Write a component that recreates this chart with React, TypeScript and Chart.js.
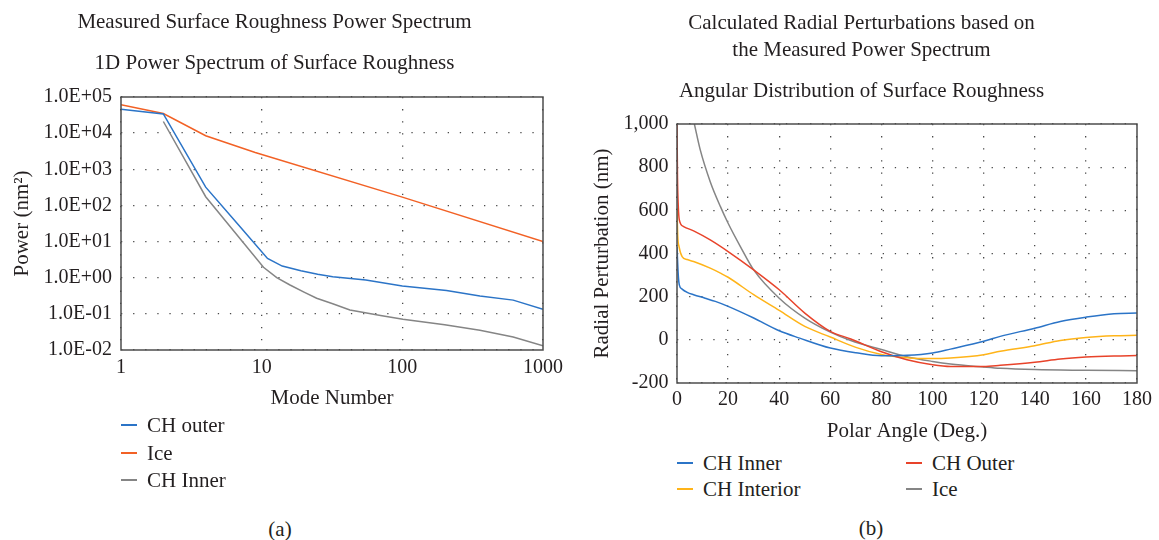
import React, { useEffect, useRef } from "react";
import { Chart, registerables } from "chart.js";

Chart.register(...registerables);

const FONT = '"Liberation Serif", "Times New Roman", serif';
const TEXT = "#231f20";

// ---- Panel (a): 1D power spectrum ----
const powerTicks = [0.01, 0.1, 1, 10, 100, 1000, 10000, 100000];
const modeTicks = [1, 10, 100, 1000];

const outerModes = [1, 2, 4, 7, 11, 14, 19, 25, 32, 55, 100, 206, 356, 614, 1000];
const outerPower = [46000, 34000, 320, 26, 3.4, 2.1, 1.56, 1.25, 1.07, 0.86, 0.59, 0.44, 0.31, 0.24, 0.134];

const iceModes = [1, 2, 4, 9, 100, 1000];
const icePower = [61000, 35000, 8500, 2900, 170, 10];

const innerModes = [2, 4, 10.3, 12.8, 15.9, 20, 24.6, 32, 42.4, 70, 101, 200, 356, 614, 1000];
const innerPower = [21000, 174, 1.94, 1.0, 0.63, 0.4, 0.27, 0.19, 0.128, 0.09, 0.071, 0.05, 0.035, 0.023, 0.013];

// ---- Panel (b): angular distribution ----
const angleTicksStep = 20;
const pertTicksStep = 200;

const chInnerAngle = [0, 0.5, 0.9, 2, 4, 6.5, 11, 15, 20, 30, 40, 48, 60, 70, 80, 90, 100, 107, 120, 126.5, 140, 150, 160, 171, 180];
const chInnerPert = [430, 300, 255, 235, 220, 209, 193, 178, 155, 101, 42, 8, -38, -60, -74, -72, -61, -43, -7, 16, 54, 85, 105, 121, 124];

const chInteriorAngle = [0, 0.3, 0.8, 2, 4, 6.5, 13, 17, 20, 30, 40, 50, 60, 70, 80, 90, 100, 107, 120, 126.5, 140, 150, 160, 171, 180];
const chInteriorPert = [610, 480, 432, 386, 372, 363, 332, 309, 290, 209, 136, 62, 13, -35, -68, -83, -87, -84, -69, -53, -27, -3, 11, 19, 21];

const chOuterAngle = [0, 0.2, 0.5, 0.9, 2.6, 6.5, 13, 20, 30, 40, 50, 60, 68, 80, 90, 100, 107, 120, 126.5, 140, 150, 160, 171, 180];
const chOuterPert = [1000, 750, 620, 556, 525, 505, 463, 409, 324, 232, 124, 39, 4, -55, -92, -115, -123, -123, -118, -104, -89, -80, -75, -73];

const iceAngle = [6.8, 9.1, 13, 17, 20, 24.8, 30, 40, 50, 60, 68, 80, 90, 100, 107, 120, 126.5, 140, 160, 180];
const icePert = [1000, 880, 733, 617, 540, 432, 324, 193, 101, 36, -3, -45, -78, -100, -112, -126, -132, -138, -141, -143];

const BLUE = "#2b74c7";
const ORANGE = "#f26125";
const GRAY = "#858585";
const YELLOW = "#ffb419";
const RED = "#e8432a";

const pts = (xs: number[], ys: number[]) => xs.map((x, i) => ({ x, y: ys[i] }));

const framePlugin = {
  id: "frame",
  afterDatasetsDraw(chart: any) {
    const { ctx, chartArea } = chart;
    const { left, top, right, bottom } = chartArea;
    ctx.save();
    ctx.strokeStyle = "#4d4d4d";
    ctx.lineWidth = 1.5;
    ctx.strokeRect(left, top, right - left, bottom - top);
    ctx.restore();
  },
};

// size in px, line box in px
const font = (size: number, line: number) => ({ family: FONT, size, lineHeight: line / size, weight: "normal" });
const TICK_FONT = font(20, 24);
const LABEL_FONT = font(21, 24);

const gridOpts = {
  color: "#4a4a4a",
  lineWidth: 1.3,
  drawTicks: false,
  tickLength: 0,
};
const borderOpts = { display: false, dash: [1.3, 10.8] };

function expLabel(v: number) {
  const e = Math.round(Math.log10(v));
  return "1.0E" + (e >= 0 ? "+" : "-") + String(Math.abs(e)).padStart(2, "0");
}

function leftConfig(): any {
  return {
    type: "line",
    data: {
      datasets: [
        { label: "CH outer", data: pts(outerModes, outerPower), borderColor: BLUE },
        { label: "Ice", data: pts(iceModes, icePower), borderColor: ORANGE },
        { label: "CH Inner", data: pts(innerModes, innerPower), borderColor: GRAY },
      ].map((d) => ({ ...d, borderWidth: 1.5, pointRadius: 0, tension: 0, fill: false })),
    },
    options: {
      responsive: false,
      animation: false,
      layout: { padding: { left: 6, right: 37, top: 0, bottom: 10 } },
      plugins: {
        legend: { display: false },
        tooltip: { enabled: false },
        title: {
          display: true,
          text: "Measured Surface Roughness Power Spectrum",
          color: TEXT,
          font: LABEL_FONT,
          padding: { top: 10, bottom: 5 },
        },
        subtitle: {
          display: true,
          text: "1D Power Spectrum of Surface Roughness",
          color: TEXT,
          font: LABEL_FONT,
          padding: { top: 12, bottom: 22 },
        },
      },
      scales: {
        x: {
          type: "logarithmic",
          min: 1,
          max: 1000,
          afterBuildTicks: (s: any) => {
            s.ticks = modeTicks.map((v) => ({ value: v }));
          },
          ticks: { color: TEXT, font: TICK_FONT, padding: 6, maxRotation: 0, callback: (v: any) => String(v) },
          grid: gridOpts,
          border: borderOpts,
          title: { display: true, text: "Mode Number", color: TEXT, font: LABEL_FONT, padding: { top: 0, bottom: 0 } },
        },
        y: {
          type: "logarithmic",
          min: 0.01,
          max: 100000,
          afterBuildTicks: (s: any) => {
            s.ticks = powerTicks.map((v) => ({ value: v }));
          },
          ticks: { color: TEXT, font: TICK_FONT, padding: 9, callback: (v: any) => expLabel(Number(v)) },
          grid: gridOpts,
          border: borderOpts,
          title: { display: true, text: "Power (nm²)", color: TEXT, font: LABEL_FONT, padding: { top: 4, bottom: 0.5 } },
        },
      },
    },
    plugins: [framePlugin],
  };
}

function rightConfig(): any {
  return {
    type: "line",
    data: {
      datasets: [
        { label: "CH Inner", data: pts(chInnerAngle, chInnerPert), borderColor: BLUE },
        { label: "CH Outer", data: pts(chOuterAngle, chOuterPert), borderColor: RED },
        { label: "CH Interior", data: pts(chInteriorAngle, chInteriorPert), borderColor: YELLOW },
        { label: "Ice", data: pts(iceAngle, icePert), borderColor: GRAY },
      ].map((d) => ({ ...d, borderWidth: 1.5, pointRadius: 0, cubicInterpolationMode: "monotone", fill: false })),
    },
    options: {
      responsive: false,
      animation: false,
      layout: { padding: { left: 6, right: 22, top: 0, bottom: 7 } },
      plugins: {
        legend: { display: false },
        tooltip: { enabled: false },
        title: {
          display: true,
          text: ["Calculated Radial Perturbations based on", "the Measured Power Spectrum"],
          color: TEXT,
          font: font(21, 27),
          padding: { top: 9.5, bottom: 0 },
        },
        subtitle: {
          display: true,
          text: "Angular Distribution of Surface Roughness",
          color: TEXT,
          font: LABEL_FONT,
          padding: { top: 15.5, bottom: 21 },
        },
      },
      scales: {
        x: {
          type: "linear",
          min: 0,
          max: 180,
          ticks: { stepSize: angleTicksStep, color: TEXT, font: TICK_FONT, padding: 5, maxRotation: 0 },
          grid: gridOpts,
          border: borderOpts,
          title: { display: true, text: "Polar Angle (Deg.)", color: TEXT, font: LABEL_FONT, padding: { top: 2, bottom: 0 } },
        },
        y: {
          type: "linear",
          min: -200,
          max: 1000,
          ticks: {
            stepSize: pertTicksStep,
            color: TEXT,
            font: TICK_FONT,
            padding: 8.5,
            callback: (v: any) => Number(v).toLocaleString("en-US"),
          },
          grid: gridOpts,
          border: borderOpts,
          title: {
            display: true,
            text: "Radial Perturbation (nm)",
            color: TEXT,
            font: LABEL_FONT,
            padding: { top: 4, bottom: 1 },
          },
        },
      },
    },
    plugins: [framePlugin],
  };
}

const textStyle: React.CSSProperties = {
  position: "absolute",
  fontFamily: FONT,
  fontSize: 21,
  lineHeight: "24px",
  color: TEXT,
  whiteSpace: "nowrap",
};

function LegendItem({ x, y, color, label, lineW = 16 }: { x: number; y: number; color: string; label: string; lineW?: number }) {
  return (
    <>
      <div style={{ position: "absolute", left: x, top: y - 1, width: lineW, height: 2, background: color }} />
      <div style={{ ...textStyle, left: x + lineW + 10, top: y - 12 }}>{label}</div>
    </>
  );
}

export default function App() {
  const leftRef = useRef<HTMLCanvasElement>(null);
  const rightRef = useRef<HTMLCanvasElement>(null);

  useEffect(() => {
    const c1 = new Chart(leftRef.current as HTMLCanvasElement, leftConfig());
    const c2 = new Chart(rightRef.current as HTMLCanvasElement, rightConfig());
    return () => {
      c1.destroy();
      c2.destroy();
    };
  }, []);

  return (
    <div style={{ position: "absolute", left: 0, top: 0, width: 1159, height: 540, background: "#fff", overflow: "hidden" }}>
      <canvas ref={leftRef} width={580} height={420} style={{ position: "absolute", left: 0, top: 0, width: 580, height: 420 }} />
      <canvas ref={rightRef} width={579} height={450} style={{ position: "absolute", left: 580, top: 0, width: 579, height: 450 }} />

      <LegendItem x={121} y={425} color={BLUE} label="CH outer" />
      <LegendItem x={121} y={453} color={ORANGE} label="Ice" />
      <LegendItem x={121} y={480} color={GRAY} label="CH Inner" />

      <LegendItem x={677} y={463} color={BLUE} label="CH Inner" />
      <LegendItem x={677} y={489} color={YELLOW} label="CH Interior" />
      <LegendItem x={906} y={463} color={RED} label="CH Outer" />
      <LegendItem x={906} y={489} color={GRAY} label="Ice" />

      <div style={{ ...textStyle, left: 280, top: 517, transform: "translateX(-50%)" }}>(a)</div>
      <div style={{ ...textStyle, left: 871, top: 516, transform: "translateX(-50%)" }}>(b)</div>
    </div>
  );
}
